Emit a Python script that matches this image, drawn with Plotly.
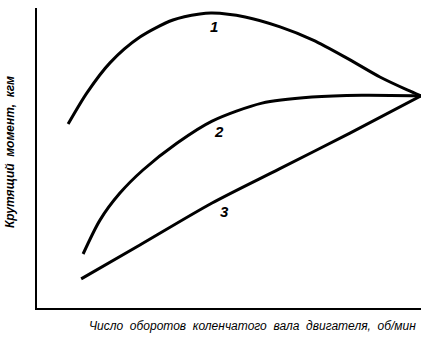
import plotly.graph_objects as go

# Data (arbitrary units: x = engine speed 0..100, y = torque 0..100)
x1 = [8.1, 13.0, 19.0, 26.8, 35.4, 42.4, 45.6, 54.2, 63.3, 71.9, 80.7, 89.3, 96.4, 100.0]
y1 = [61.3, 71.7, 81.7, 90.3, 96.0, 98.0, 98.3, 97.0, 93.7, 89.3, 83.3, 77.0, 72.7, 70.7]

x2 = [12.0, 16.4, 21.6, 27.6, 36.5, 45.6, 58.6, 71.6, 84.6, 100.0]
y2 = [18.0, 29.3, 38.3, 46.0, 55.0, 62.3, 68.3, 70.3, 70.9, 70.7]

x3 = [11.5, 26.8, 45.6, 63.0, 81.5, 100.0]
y3 = [9.7, 21.0, 35.0, 46.3, 58.3, 70.7]

curve_labels = ["1", "2", "3"]
label_x = [46.2, 47.4, 48.7]
label_y = [94.0, 59.0, 32.3]

x_title = "Число  оборотов  коленчатого  вала  двигателя,  об/мин"
y_title = "Крутящий  момент,  кгм"

fig = go.Figure()
for xs, ys in [(x1, y1), (x2, y2), (x3, y3)]:
    fig.add_trace(go.Scatter(x=xs, y=ys, mode="lines",
                             line=dict(color="black", width=3, shape="spline", smoothing=0.8),
                             showlegend=False, hoverinfo="skip"))

for t, lx, ly in zip(curve_labels, label_x, label_y):
    fig.add_annotation(x=lx, y=ly, text=t, showarrow=False,
                       font=dict(family="Liberation Sans", size=15, color="black",
                                 style="italic", weight="bold"))

fig.add_annotation(xref="paper", yref="paper", x=-0.07, y=0.52, text=y_title,
                   textangle=-90, showarrow=False, xanchor="center", yanchor="middle",
                   font=dict(family="Liberation Sans", size=12, color="black",
                             style="italic", weight="bold"))
fig.add_annotation(xref="paper", yref="paper", x=0.561, y=-0.06, text=x_title,
                   showarrow=False, xanchor="center", yanchor="middle",
                   font=dict(family="Liberation Sans", size=12, color="black", style="italic"))

fig.update_layout(
    width=425, height=337,
    margin=dict(l=37, r=4, t=8, b=29, autoexpand=False),
    paper_bgcolor="white", plot_bgcolor="white",
    xaxis=dict(range=[0, 100], showline=True, linecolor="black", linewidth=2,
               showgrid=False, zeroline=False, showticklabels=False, ticks=""),
    yaxis=dict(range=[0, 100], showline=True, linecolor="black", linewidth=2,
               showgrid=False, zeroline=False, showticklabels=False, ticks=""),
)
fig.write_html("out.html", config={"displayModeBar": False},
               post_script="document.body.style.margin='0';document.body.style.overflow='hidden';")
